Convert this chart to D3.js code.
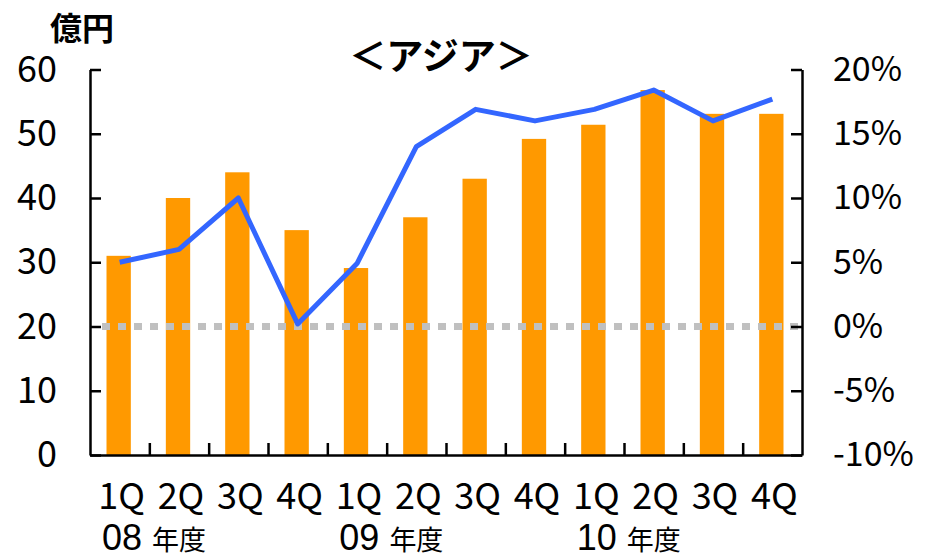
<!DOCTYPE html>
<html>
<head>
<meta charset="utf-8">
<script src="https://cdn.jsdelivr.net/npm/d3@7"></script>
<style>
body { margin: 0; background: #fff; }
text { font-family: "Noto Sans CJK JP", "Noto Sans", sans-serif; fill: #000; }
</style>
</head>
<body>
<div id="chart"></div>
<script>
// quarters (fiscal year groups of 4)
var quarters = ["1Q","2Q","3Q","4Q","1Q","2Q","3Q","4Q","1Q","2Q","3Q","4Q"];
var years = ["08","09","10"];
// sales, 億円 (left axis)
var sales = [31, 40, 44, 35, 29.1, 37, 43, 49.2, 51.4, 56.8, 53.1, 53.1];
// margin, % (right axis)
var margin = [5.0, 6.0, 10.0, 0.2, 4.9, 14.0, 16.9, 16.0, 16.9, 18.4, 16.0, 17.7];
var leftTicks = [0, 10, 20, 30, 40, 50, 60];
var rightTicks = [-10, -5, 0, 5, 10, 15, 20];

var W = 926, H = 558;
var x0 = 90, x1 = 802, yTop = 69.5, yBot = 455;
var numFont = "'Liberation Sans', Arial, sans-serif";

var svg = d3.select("#chart").append("svg")
  .attr("width", W)
  .attr("height", H);

var x = d3.scaleBand()
  .domain(d3.range(sales.length))
  .range([x0, x1])
  .padding(0);

var xIdx = d3.scaleLinear().domain([0, sales.length]).range([x0, x1]);

var yL = d3.scaleLinear().domain([0, 60]).range([yBot, yTop]);
var yR = d3.scaleLinear().domain([-10, 20]).range([yBot, yTop]);

// bars
var bw = x.bandwidth() * 0.41;
svg.selectAll("rect.bar")
  .data(sales)
  .enter().append("rect")
    .attr("class", "bar")
    .attr("x", function(d, i) { return x(i) + x.bandwidth() / 2 - bw / 2 - 1; })
    .attr("y", function(d) { return yL(d); })
    .attr("width", bw)
    .attr("height", function(d) { return yBot - yL(d); })
    .attr("fill", "#ff9900");

// 0% dotted line
svg.append("line")
  .attr("x1", x0 + 12)
  .attr("x2", x1 - 2)
  .attr("y1", yR(0))
  .attr("y2", yR(0))
  .attr("stroke", "#c0c0c0")
  .attr("stroke-width", 7)
  .attr("stroke-dasharray", "8,8");

// margin line
var line = d3.line()
  .x(function(d, i) { return x(i) + x.bandwidth() / 2; })
  .y(function(d) { return yR(d); });

svg.append("path")
  .datum(margin)
  .attr("d", line)
  .attr("fill", "none")
  .attr("stroke", "#3366ff")
  .attr("stroke-width", 5)
  .attr("stroke-linejoin", "round");

// axes
var axL = svg.append("g")
  .attr("transform", "translate(" + x0 + ",0)")
  .call(d3.axisLeft(yL).tickValues(leftTicks).tickSize(-11).tickSizeOuter(0).tickPadding(33));

var axR = svg.append("g")
  .attr("transform", "translate(" + x1 + ",0)")
  .call(d3.axisRight(yR).tickValues(rightTicks).tickFormat(function(d) { return d + "%"; })
    .tickSize(-11).tickSizeOuter(0).tickPadding(31));

var axB = svg.append("g")
  .attr("transform", "translate(0," + yBot + ")")
  .call(d3.axisBottom(xIdx).tickValues(d3.range(1, sales.length)).tickSize(-12)
    .tickSizeOuter(0).tickFormat(""));

[axL, axR, axB].forEach(function(g) {
  g.selectAll("path.domain").attr("stroke", "#000").attr("stroke-width", 2.5);
  g.selectAll(".tick line").attr("stroke", "#000").attr("stroke-width", 2.5);
  g.selectAll(".tick text")
    .attr("font-size", 36)
    .attr("font-family", numFont)
    .attr("fill", "#000");
});
axR.selectAll(".tick text").attr("text-anchor", "start").attr("font-size", 34);

// category labels
svg.selectAll("text.q")
  .data(quarters)
  .enter().append("text")
    .attr("class", "q")
    .attr("x", function(d, i) { return x(i) + x.bandwidth() / 2 + 2; })
    .attr("y", 509)
    .attr("text-anchor", "middle")
    .attr("font-family", numFont)
    .attr("font-size", 36)
    .text(function(d) { return d; });

var yr = svg.selectAll("text.yr")
  .data(years)
  .enter().append("text")
    .attr("class", "yr")
    .attr("x", function(d, i) { return x(i * 4) + 12; })
    .attr("y", 550);
yr.append("tspan").attr("font-family", numFont).attr("font-size", 36).text(function(d) { return d + " "; });
yr.append("tspan").attr("font-size", 27).text("年度");

// unit and title
svg.append("text")
  .attr("x", 50)
  .attr("y", 40)
  .attr("font-size", 32)
  .attr("font-weight", "bold")
  .text("億円");

svg.append("text")
  .attr("x", 441)
  .attr("y", 70)
  .attr("text-anchor", "middle")
  .attr("font-size", 37)
  .attr("font-weight", "bold")
  .text("＜アジア＞");
</script>
</body>
</html>
